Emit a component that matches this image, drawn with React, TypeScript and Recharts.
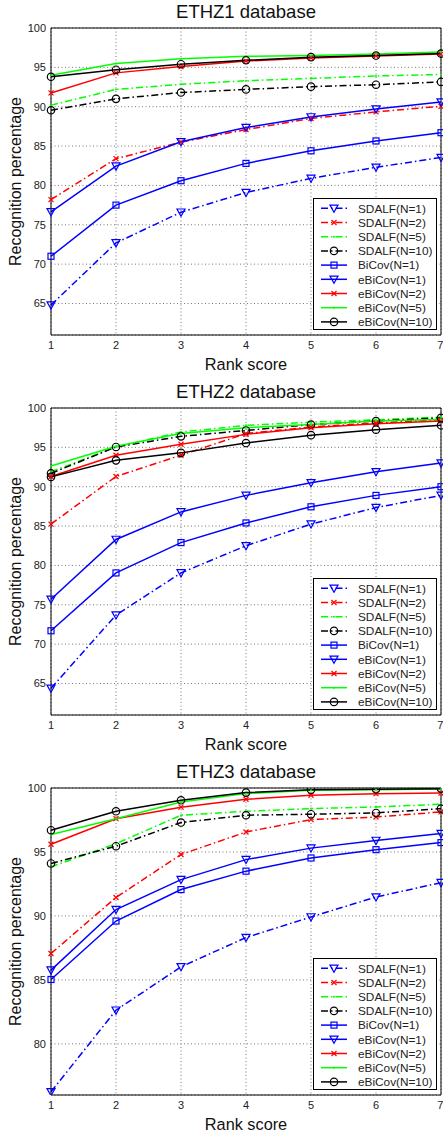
import { LineChart, Line, XAxis, YAxis, CartesianGrid, ReferenceLine, Legend } from 'recharts'

const ranks = [1, 2, 3, 4, 5, 6, 7]
const seriesNames = [
  'SDALF(N=1)', 'SDALF(N=2)', 'SDALF(N=5)', 'SDALF(N=10)',
  'BiCov(N=1)', 'eBiCov(N=1)', 'eBiCov(N=2)', 'eBiCov(N=5)', 'eBiCov(N=10)',
]

// ETHZ1
const ethz1Sdalf1 = [64.8, 72.7, 76.6, 79.1, 80.9, 82.3, 83.55]
const ethz1Sdalf2 = [78.2, 83.4, 85.5, 87.1, 88.5, 89.35, 90.05]
const ethz1Sdalf5 = [90.2, 92.2, 92.85, 93.3, 93.6, 93.9, 94.1]
const ethz1Sdalf10 = [89.55, 91.0, 91.8, 92.2, 92.55, 92.8, 93.15]
const ethz1Bicov1 = [71.0, 77.5, 80.6, 82.8, 84.4, 85.65, 86.7]
const ethz1Ebicov1 = [76.65, 82.45, 85.55, 87.35, 88.7, 89.7, 90.6]
const ethz1Ebicov2 = [91.75, 94.3, 95.1, 95.8, 96.2, 96.45, 96.7]
const ethz1Ebicov5 = [94.0, 95.5, 96.1, 96.4, 96.5, 96.7, 96.95]
const ethz1Ebicov10 = [93.8, 94.7, 95.4, 95.9, 96.3, 96.5, 96.75]

// ETHZ2
const ethz2Sdalf1 = [64.4, 73.7, 79.05, 82.5, 85.25, 87.35, 88.9]
const ethz2Sdalf2 = [85.25, 91.3, 94.0, 96.75, 97.6, 98.1, 98.5]
const ethz2Sdalf5 = [91.9, 95.05, 96.95, 97.8, 98.2, 98.5, 98.85]
const ethz2Sdalf10 = [91.7, 95.05, 96.4, 97.15, 97.9, 98.35, 98.75]
const ethz2Bicov1 = [71.7, 79.05, 82.9, 85.4, 87.45, 88.9, 90.0]
const ethz2Ebicov1 = [75.7, 83.3, 86.8, 88.9, 90.5, 91.9, 93.0]
const ethz2Ebicov2 = [91.3, 94.0, 95.4, 96.65, 97.5, 98.0, 98.35]
const ethz2Ebicov5 = [92.64, 95.14, 96.75, 97.5, 97.9, 98.35, 98.55]
const ethz2Ebicov10 = [91.25, 93.35, 94.3, 95.55, 96.55, 97.25, 97.8]

// ETHZ3
const ethz3Sdalf1 = [76.25, 82.63, 86.02, 88.31, 89.92, 91.48, 92.6]
const ethz3Sdalf2 = [87.06, 91.44, 94.8, 96.56, 97.53, 97.73, 98.13]
const ethz3Sdalf5 = [93.83, 95.65, 97.87, 98.18, 98.39, 98.52, 98.73]
const ethz3Sdalf10 = [94.1, 95.45, 97.3, 97.87, 97.95, 98.05, 98.39]
const ethz3Bicov1 = [85.03, 89.6, 92.06, 93.5, 94.53, 95.18, 95.73]
const ethz3Ebicov1 = [85.76, 90.5, 92.84, 94.4, 95.3, 95.9, 96.44]
const ethz3Ebicov2 = [95.6, 97.6, 98.5, 99.12, 99.43, 99.56, 99.6]
const ethz3Ebicov5 = [96.36, 97.6, 98.9, 99.56, 99.82, 99.87, 99.92]
const ethz3Ebicov10 = [96.7, 98.18, 99.04, 99.64, 99.87, 99.9, 99.95]

const ticks12 = [65, 70, 75, 80, 85, 90, 95, 100]
const ticks3 = [80, 85, 90, 95, 100]

const DASHDOT = '7 3 1.5 3'
const FONT = '"Liberation Sans", Arial, Helvetica, sans-serif'

const seriesStyles = [
  { color: '#0000ff', dash: DASHDOT, marker: 'tri' },
  { color: '#ff0000', dash: DASHDOT, marker: 'x' },
  { color: '#00ff00', dash: DASHDOT, marker: 'point' },
  { color: '#000000', dash: DASHDOT, marker: 'circle' },
  { color: '#0000ff', dash: undefined, marker: 'square' },
  { color: '#0000ff', dash: undefined, marker: 'tri' },
  { color: '#ff0000', dash: undefined, marker: 'x' },
  { color: '#00ff00', dash: undefined, marker: 'point' },
  { color: '#000000', dash: undefined, marker: 'circle' },
]

const panels = [
  {
    title: 'ETHZ1 database',
    domain: [61, 100],
    ticks: ticks12,
    series: [ethz1Sdalf1, ethz1Sdalf2, ethz1Sdalf5, ethz1Sdalf10, ethz1Bicov1, ethz1Ebicov1, ethz1Ebicov2, ethz1Ebicov5, ethz1Ebicov10],
  },
  {
    title: 'ETHZ2 database',
    domain: [61, 100],
    ticks: ticks12,
    series: [ethz2Sdalf1, ethz2Sdalf2, ethz2Sdalf5, ethz2Sdalf10, ethz2Bicov1, ethz2Ebicov1, ethz2Ebicov2, ethz2Ebicov5, ethz2Ebicov10],
  },
  {
    title: 'ETHZ3 database',
    domain: [76, 100],
    ticks: ticks3,
    series: [ethz3Sdalf1, ethz3Sdalf2, ethz3Sdalf5, ethz3Sdalf10, ethz3Bicov1, ethz3Ebicov1, ethz3Ebicov2, ethz3Ebicov5, ethz3Ebicov10],
  },
]

function Marker({ kind, cx, cy, color }: { kind: string; cx: number; cy: number; color: string }) {
  if (cx == null || cy == null) return null
  const sw = 1.2
  switch (kind) {
    case 'tri':
      return <path d={`M${cx - 4},${cy - 3.2}L${cx + 4},${cy - 3.2}L${cx},${cy + 4}Z`} fill="none" stroke={color} strokeWidth={sw} />
    case 'x':
      return (
        <path d={`M${cx - 2.5},${cy - 2.5}L${cx + 2.5},${cy + 2.5}M${cx - 2.5},${cy + 2.5}L${cx + 2.5},${cy - 2.5}`} stroke={color} strokeWidth={sw} />
      )
    case 'circle':
      return <circle cx={cx} cy={cy} r={3.7} fill="none" stroke={color} strokeWidth={sw} />
    case 'square':
      return <rect x={cx - 3} y={cy - 3} width={6} height={6} fill="none" stroke={color} strokeWidth={sw} />
    default:
      return <circle cx={cx} cy={cy} r={1} fill={color} />
  }
}

const LegendBox = () => (
  <svg width={124} height={132} style={{ display: 'block' }}>
    <rect x={0.5} y={0.5} width={123} height={131} fill="#fff" stroke="#000" strokeWidth={1} />
    {seriesNames.map((name, i) => {
      const st = seriesStyles[i]
      const y = 10.3 + i * 14.2
      return (
        <g key={name}>
          <line x1={8} x2={34} y1={y} y2={y} stroke={st.color} strokeWidth={1.5} strokeDasharray={st.dash} />
          <Marker kind={st.marker} cx={21} cy={y} color={st.color} />
          <text x={45} y={y + 4.2} fontSize={11.8} fontFamily={FONT} fill="#222">{name}</text>
        </g>
      )
    })}
  </svg>
)

function Panel({ panel }: { panel: typeof panels[number] }) {
  const rows = ranks.map((r, i) => {
    const row: Record<string, number> = { rank: r }
    panel.series.forEach((s, k) => { row['s' + k] = s[i] })
    return row
  })
  const tickStyle = { fill: '#222', fontSize: 11, fontFamily: FONT }
  return (
    <div style={{ position: 'relative', width: 443, height: 380 }}>
      <div style={{
        position: 'absolute', top: 1, left: 51, width: 390, textAlign: 'center',
        fontFamily: FONT, fontSize: 18.5, lineHeight: '21px', color: '#111',
      }}>
        {panel.title}
      </div>
      <LineChart width={443} height={380} data={rows} margin={{ top: 28, right: 2, bottom: 5, left: 0 }}>
        <CartesianGrid stroke="#555" strokeDasharray="1 2.5" strokeWidth={0.8} />
        <XAxis
          dataKey="rank"
          type="number"
          domain={[1, 7]}
          ticks={ranks}
          height={40}
          tick={tickStyle}
          tickLine={false}
          tickSize={4}
          axisLine={{ stroke: '#000' }}
          label={{ value: 'Rank score', position: 'insideBottom', offset: 5, fill: '#111', fontSize: 16.3, fontFamily: FONT }}
        />
        <YAxis
          type="number"
          domain={panel.domain}
          ticks={panel.ticks}
          width={51}
          tick={tickStyle}
          tickLine={false}
          tickSize={3}
          tickMargin={2}
          axisLine={{ stroke: '#000' }}
          allowDataOverflow
          label={{
            value: 'Recognition percentage', angle: -90, position: 'insideLeft', offset: 15,
            fill: '#111', fontSize: 16, fontFamily: FONT, style: { textAnchor: 'middle' },
          }}
        />
        <ReferenceLine y={100} stroke="#000" strokeWidth={1} />
        <ReferenceLine x={7} stroke="#000" strokeWidth={1} />
        {seriesStyles.map((st, k) => (
          <Line
            key={seriesNames[k]}
            dataKey={'s' + k}
            name={seriesNames[k]}
            type="linear"
            stroke={st.color}
            strokeWidth={1.5}
            strokeDasharray={st.dash}
            dot={(p: any) => <Marker key={`${k}-${p.index}`} kind={st.marker} cx={p.cx} cy={p.cy} color={st.color} />}
            activeDot={false}
            isAnimationActive={false}
          />
        ))}
        <Legend
          layout="vertical"
          align="center"
          verticalAlign="middle"
          content={() => <LegendBox />}
          wrapperStyle={{ left: 313, top: 198, width: 124, height: 132 }}
        />
      </LineChart>
    </div>
  )
}

export default function App() {
  return (
    <div style={{ position: 'absolute', top: 0, left: 0, width: 443, background: '#fff' }}>
      {panels.map((p) => <Panel key={p.title} panel={p} />)}
    </div>
  )
}
